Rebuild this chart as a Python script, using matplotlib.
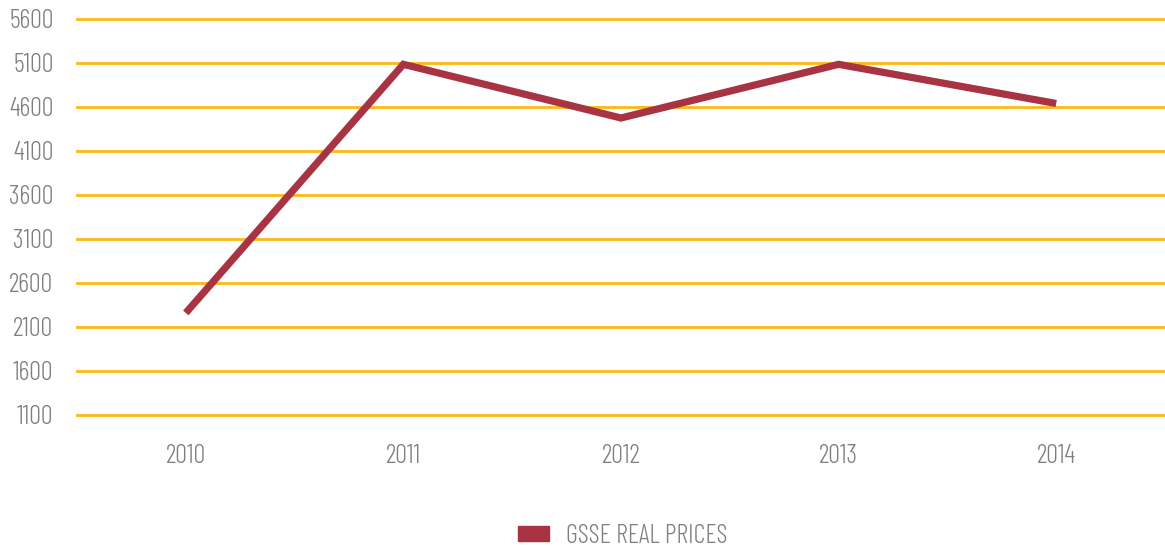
import matplotlib
matplotlib.use("Agg")
import matplotlib.pyplot as plt
import matplotlib.patches as mpatches
from matplotlib.font_manager import fontManager, FontProperties
import os

years = ["2010", "2011", "2012", "2013", "2014"]
prices = [2260, 5085, 4475, 5085, 4640]
yticks = [1100, 1600, 2100, 2600, 3100, 3600, 4100, 4600, 5100, 5600]
series_name = "GSSE REAL PRICES"

fpath = None
for pref in ["BarlowCondensed-Light.ttf", "BarlowCondensed-Regular.ttf", "AsapCondensed-Light.ttf"]:
    for f in fontManager.ttflist:
        if os.path.basename(f.fname) == pref:
            fpath = f.fname
            break
    if fpath:
        break
if fpath:
    fp = FontProperties(fname=fpath, size=19)
else:
    fp = FontProperties(family="DejaVu Sans", size=15)

line_color = "#A83343"
fig = plt.figure(figsize=(11.65, 5.48), dpi=100)
ax = fig.add_axes([77/1165, 1-415/548, 1-77/1165, (415-19)/548])
x = list(range(len(years)))
ax.plot(x, prices, color=line_color, lw=5.2, solid_capstyle="butt", solid_joinstyle="miter", zorder=3)
ax.set_xlim(-0.5, len(years)-0.5)
ax.set_ylim(yticks[0], yticks[-1])
ax.set_yticks(yticks)
ax.set_yticklabels([str(v) for v in yticks])
ax.set_xticks(x)
ax.set_xticklabels(years)
ax.grid(axis="y", color="#FDB913", lw=2.0, zorder=1)
for gl in ax.get_ygridlines():
    gl.set_clip_on(False)
ax.set_axisbelow(True)
for s in ax.spines.values():
    s.set_visible(False)
ax.tick_params(axis="both", length=0, colors="#7f7f7f")
ax.tick_params(axis="y", pad=17)
ax.tick_params(axis="x", pad=21)
for lbl in ax.get_yticklabels() + ax.get_xticklabels():
    lbl.set_fontproperties(fp)
handle = mpatches.Patch(color=line_color, label=series_name)
leg = fig.legend(handles=[handle], loc="center", bbox_to_anchor=(623/1165, 1-536/548), frameon=False,
                 prop=fp, handlelength=1.17, handleheight=0.5, handletextpad=0.65)
for t in leg.get_texts():
    t.set_color("#7f7f7f")
fig.savefig("out.png", dpi=100)
